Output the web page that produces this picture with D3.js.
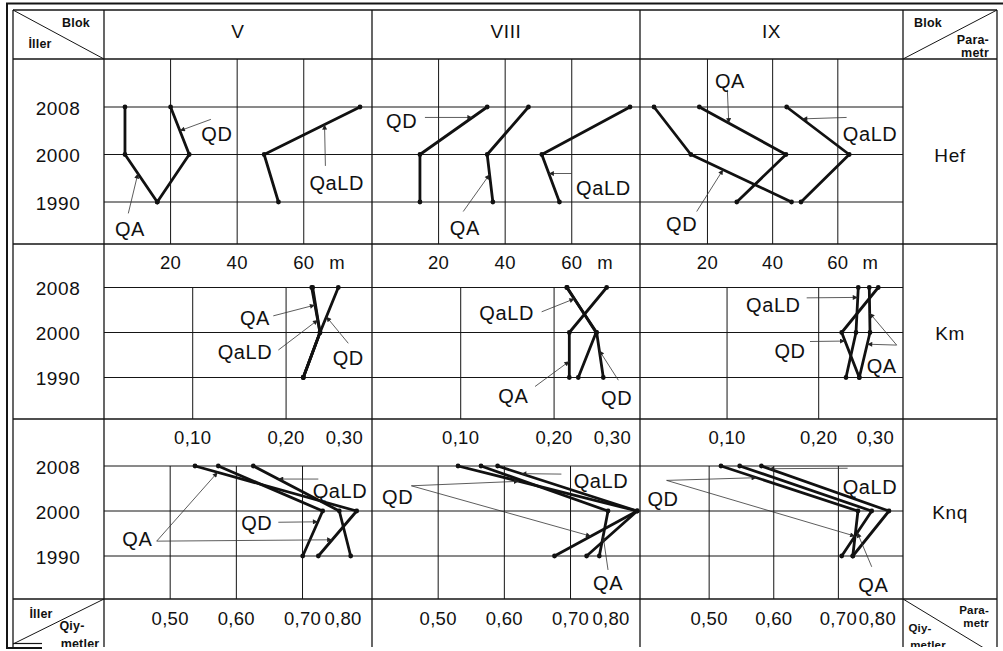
<!DOCTYPE html>
<html><head><meta charset="utf-8">
<script src="https://cdn.jsdelivr.net/npm/d3@7"></script>
<style>
body{margin:0;background:#fff}
svg{display:block}
text{font-family:Arial,"Liberation Sans",sans-serif;fill:#111}
</style>
</head><body>
<svg id="c" width="1003" height="651"></svg>
<script>
// ---------------- data ----------------
const years = [2008, 2000, 1990];
const blocks = ["V", "VIII", "IX"];
const params = ["Hef", "Km", "Knq"];
const seriesNames = ["QA", "QD", "QaLD"];

// each series: [block V, block VIII, block IX], each block: [2008, 2000, 1990]
const hefQA   = [[6.3, 6.3, 16.0], [47.0, 34.6, 36.3], [17.5, 44.1, 29.0]];
const hefQD   = [[20.0, 25.6, 16.0], [34.6, 14.4, 14.4], [3.6, 14.9, 45.8]];
const hefQaLD = [[76.9, 48.1, 52.4], [77.5, 51.0, 56.3], [44.3, 63.5, 48.7]];

const kmQA   = [[0.2274, 0.2363, 0.2184], [0.2563, 0.2163, 0.2163], [0.2552, 0.2560, 0.2443]];
const kmQD   = [[0.2559, 0.2363, 0.2184], [0.2135, 0.2456, 0.2527], [0.2650, 0.2251, 0.2443]];
const kmQaLD = [[0.2285, 0.2363, 0.2184], [0.2140, 0.2450, 0.2259], [0.2432, 0.2407, 0.2298]];

const knqQA   = [[0.5375, 0.7819, 0.7239], [0.5647, 0.7567, 0.7435], [0.5473, 0.7516, 0.7051]];
const knqQD   = [[0.5727, 0.7305, 0.7003], [0.5300, 0.8008, 0.6758], [0.5183, 0.7303, 0.7223]];
const knqQaLD = [[0.6256, 0.7556, 0.7728], [0.5898, 0.8008, 0.7243], [0.5809, 0.7783, 0.7223]];

// tick labels
const hefTicks = [20, 40, 60];
const hefTickLabels = ["20", "40", "60"];
const hefUnit = "m";
const kmTicks = [0.10, 0.20, 0.30];
const kmTickLabels = ["0,10", "0,20", "0,30"];
const knqTicks = [0.50, 0.60, 0.70, 0.80];
const knqTickLabels = ["0,50", "0,60", "0,70", "0,80"];

// annotations: [param, block, text, label[v,t], arrowStart[v,t], tips[[series, segment, fraction]]]
const notes = [
  ["Hef",0,"QD",[33.9,0.54],[32.1,0.26],[["QD",0,0.5]]],
  ["Hef",0,"QaLD",[69.9,1.57],[66.5,1.24],[["QaLD",0,0.37]]],
  ["Hef",0,"QA",[7.8,2.55],[7.3,2.24],[["QA",1,0.4]]],
  ["Hef",1,"QD",[8.9,0.27],[15.9,0.22],[["QD",0,0.22]]],
  ["Hef",1,"QA",[27.9,2.52],[27.4,2.2],[["QA",1,0.42]]],
  ["Hef",1,"QaLD",[69.5,1.68],[60.0,1.4],[["QaLD",1,0.4]]],
  ["Hef",2,"QA",[26.9,-0.57],[26.1,-0.36],[["QA",0,0.34]]],
  ["Hef",2,"QaLD",[69.9,0.55],[62.7,0.22],[["QaLD",0,0.25]]],
  ["Hef",2,"QD",[12.1,2.44],[16.7,2.2],[["QD",1,0.32]]],
  ["Km",0,"QA",[0.1667,0.65],[0.1863,0.63],[["QA",0,0.39]]],
  ["Km",0,"QaLD",[0.156,1.41],[0.1917,1.39],[["QaLD",0,0.72]]],
  ["Km",0,"QD",[0.2666,1.54],[0.2666,1.24],[["QD",0,0.65]]],
  ["Km",1,"QaLD",[0.1492,0.54],[0.1867,0.54],[["QaLD",0,0.25]]],
  ["Km",1,"QA",[0.1563,2.39],[0.1796,2.2],[["QA",1,0.64]]],
  ["Km",1,"QD",[0.267,2.43],[0.2688,2.06],[["QD",1,0.4]]],
  ["Km",2,"QaLD",[0.1505,0.37],[0.1869,0.23],[["QaLD",0,0.22]]],
  ["Km",2,"QD",[0.1687,1.39],[0.1905,1.2],[["QD",1,0.19]]],
  ["Km",2,"QA",[0.2688,1.72],[0.2851,1.28],[["QA",0,0.57],["QA",1,0.26]]],
  ["Knq",0,"QaLD",[0.7567,0.53],[0.7239,0.29],[["QaLD",0,0.29]]],
  ["Knq",0,"QD",[0.6308,1.25],[0.6634,1.25],[["QD",1,0.24]]],
  ["Knq",0,"QA",[0.4503,1.61],[0.4796,1.67],[["QA",0,0.14],["QA",1,0.64]]],
  ["Knq",1,"QaLD",[0.7461,0.32],[0.6862,0.18],[["QaLD",0,0.17]]],
  ["Knq",1,"QD",[0.4387,0.67],[0.4595,0.44],[["QD",0,0.34],["QD",1,0.56]]],
  ["Knq",1,"QA",[0.7567,2.58],[0.7567,2.31],[["QA",1,0.56]]],
  ["Knq",2,"QaLD",[0.749,0.44],[0.7143,0.05],[["QaLD",0,0.06]]],
  ["Knq",2,"QD",[0.4286,0.71],[0.4342,0.32],[["QD",0,0.26],["QD",1,0.56]]],
  ["Knq",2,"QA",[0.7542,2.62],[0.7516,2.24],[["QA",1,0.48]]]
];

// ---------------- layout ----------------
const data = {
  Hef: {QA: hefQA, QD: hefQD, QaLD: hefQaLD},
  Km:  {QA: kmQA,  QD: kmQD,  QaLD: kmQaLD},
  Knq: {QA: knqQA, QD: knqQD, QaLD: knqQaLD}
};
const gridVals = {Hef: [20, 40, 60], Km: [0.1, 0.2], Knq: [0.5, 0.6, 0.7]};
const domains = {
  Hef: [[0, 80.5], [0, 80.5], [-0.7, 80]],
  Km:  [[0.005, 0.292], [0.005, 0.292], [0.005, 0.292]],
  Knq: [[0.40, 0.805], [0.40, 0.805], [0.393, 0.80]]
};
const colEdges = [13, 104, 372, 640, 903, 997];
const rows = {
  Hef: {top: 59,  gridTop: 59,    bottom: 244, y0: 107,   y1: 202},
  Km:  {top: 244, gridTop: 287.5, bottom: 419, y0: 287.5, y1: 377.5},
  Knq: {top: 419, gridTop: 466,   bottom: 599, y0: 466,   y1: 556}
};
const ink = "#151515";
const FS = 19, LS = 0.6;

const svg = d3.select("#c");
svg.append("rect").attr("width", 1003).attr("height", 651).attr("fill", "#fff");
const defs = svg.append("defs");
defs.append("marker").attr("id", "ah").attr("viewBox", "0 0 10 10")
  .attr("refX", 10).attr("refY", 5).attr("markerWidth", 7).attr("markerHeight", 5)
  .attr("markerUnits", "userSpaceOnUse").attr("orient", "auto")
  .append("path").attr("d", "M0,0L10,5L0,10z").attr("fill", "#222");
defs.append("clipPath").attr("id", "pageclip").append("rect")
  .attr("x", 0).attr("y", 0).attr("width", 1003).attr("height", 647);

const xScale = (p, b) => d3.scaleLinear().domain(domains[p][b]).range([colEdges[b + 1], colEdges[b + 2]]);
const yPoint = p => d3.scalePoint().domain(years).range([rows[p].y0, rows[p].y1]);
const yIdx = p => d3.scaleLinear().domain([0, 2]).range([rows[p].y0, rows[p].y1]);

const gGrid = svg.append("g");
const gMarks = svg.append("g");
const gText = svg.append("g");

function hline(g, x1, x2, y, w) {
  g.append("line").attr("x1", x1).attr("x2", x2).attr("y1", y).attr("y2", y)
    .attr("stroke", ink).attr("stroke-width", w || 1.1);
}
function vline(g, x, y1, y2, w) {
  g.append("line").attr("x1", x).attr("x2", x).attr("y1", y1).attr("y2", y2)
    .attr("stroke", ink).attr("stroke-width", w || 1.1);
}
function txt(g, x, y, s, o) {
  o = o || {};
  const t = g.append("text").attr("x", x).attr("y", y).text(s)
    .attr("text-anchor", o.anchor || "middle")
    .attr("dominant-baseline", "central")
    .attr("font-size", o.size || FS)
    .attr("letter-spacing", o.ls !== undefined ? o.ls : LS);
  if (o.bold) t.attr("font-weight", "bold");
  return t;
}

// ---- grid inside panels ----
params.forEach(p => {
  const r = rows[p];
  blocks.forEach((bn, b) => {
    const x = xScale(p, b);
    gridVals[p].forEach(v => vline(gGrid, x(v), r.gridTop, r.bottom, 1));
    years.forEach(yr => hline(gGrid, colEdges[b + 1], colEdges[b + 2], yPoint(p)(yr), 1));
  });
});

// ---- table frame ----
const tbl = svg.append("g").attr("clip-path", "url(#pageclip)");
[10, 59, 244, 419, 599].forEach(y => hline(tbl, 13, 997, y, 1.3));
colEdges.forEach(x => vline(tbl, x, 10, 651, 1.3));
// outer frame
hline(svg, 6, 1003, 3.5, 2);
vline(svg, 7, 3, 648, 2);
hline(svg, 6, 42, 648, 2);
hline(svg, 13, 42, 643.5, 1.2);
// diagonals in corner cells
const diag = (x1, y1, x2, y2) => tbl.append("line").attr("x1", x1).attr("y1", y1).attr("x2", x2).attr("y2", y2)
  .attr("stroke", ink).attr("stroke-width", 1);
diag(13, 10, 104, 59);
diag(903, 59, 997, 10);
diag(13, 644, 104, 599);
diag(903, 599, 997, 656);

// ---- header texts ----
blocks.forEach((bn, b) => txt(gText, (colEdges[b + 1] + colEdges[b + 2]) / 2, 31, bn, {size: 19}));
const cs = {size: 12.5, bold: true, ls: 0.2};
const cs2 = {size: 11.5, bold: true, ls: 0.2};
txt(gText, 76, 23, "Blok", cs);
txt(gText, 40, 44, "İller", cs);
txt(gText, 928, 23, "Blok", cs);
txt(gText, 989, 40, "Para-", Object.assign({anchor: "end"}, cs));
txt(gText, 989, 53, "metr", Object.assign({anchor: "end"}, cs));
const bl = gText.append("g").attr("clip-path", "url(#pageclip)");
txt(bl, 41, 614, "İller", cs);
txt(bl, 72, 626, "Qiy-", cs);
txt(bl, 80, 644, "metler", cs);
txt(bl, 989, 610, "Para-", Object.assign({anchor: "end"}, cs2));
txt(bl, 989, 623, "metr", Object.assign({anchor: "end"}, cs2));
txt(bl, 920, 628, "Qiy-", cs2);
txt(bl, 928, 645, "metler", cs2);

// ---- year labels and parameter labels ----
params.forEach(p => {
  years.forEach(yr => txt(gText, 58, yPoint(p)(yr) + 1, String(yr)));
  txt(gText, 950, yPoint(p)(2000) + 1, p, {size: 19});
});

// ---- tick labels ----
const ts = {size: 18.5, ls: 0.3};
blocks.forEach((bn, b) => {
  const xh = xScale("Hef", b);
  hefTicks.forEach((v, i) => txt(gText, xh(v), 262, hefTickLabels[i], ts));
  txt(gText, xh(70), 262, hefUnit, ts);
  const xk = xScale("Km", b);
  kmTicks.forEach((v, i) => {
    if (i < kmTicks.length - 1) txt(gText, xk(v), 437, kmTickLabels[i], ts);
    else txt(gText, colEdges[b + 2] - 9, 437, kmTickLabels[i], Object.assign({anchor: "end"}, ts));
  });
  const xq = xScale("Knq", b);
  knqTicks.forEach((v, i) => {
    if (i < knqTicks.length - 1) txt(gText, xq(v), 618, knqTickLabels[i], ts);
    else txt(gText, xq(v) - 7, 618, knqTickLabels[i], Object.assign({anchor: "end"}, ts));
  });
});

// ---- data lines ----
params.forEach(p => {
  const yp = yPoint(p);
  blocks.forEach((bn, b) => {
    const x = xScale(p, b);
    seriesNames.forEach(s => {
      const vals = data[p][s][b];
      const line = d3.line().x(d => x(d)).y((d, i) => yp(years[i]));
      gMarks.append("path").attr("d", line(vals)).attr("fill", "none")
        .attr("stroke", "#111").attr("stroke-width", 2.8).attr("stroke-linejoin", "round");
      gMarks.selectAll(null).data(vals).enter().append("circle")
        .attr("cx", d => x(d)).attr("cy", (d, i) => yp(years[i])).attr("r", 2.4).attr("fill", "#111");
    });
  });
});

// ---- annotations ----
notes.forEach(([p, b, label, lp, ap, tips]) => {
  const x = xScale(p, b), yi = yIdx(p), yp = yPoint(p);
  tips.forEach(([s, seg, f]) => {
    const vals = data[p][s][b];
    const x1 = x(vals[seg]), y1 = yp(years[seg]);
    const x2 = x(vals[seg + 1]), y2 = yp(years[seg + 1]);
    gText.append("line")
      .attr("x1", x(ap[0])).attr("y1", yi(ap[1]))
      .attr("x2", x1 + (x2 - x1) * f).attr("y2", y1 + (y2 - y1) * f)
      .attr("stroke", "#333").attr("stroke-width", 0.8).attr("marker-end", "url(#ah)");
  });
  txt(gText, x(lp[0]), yi(lp[1]) + 1, label, {size: 20});
});
</script>
</body></html>
